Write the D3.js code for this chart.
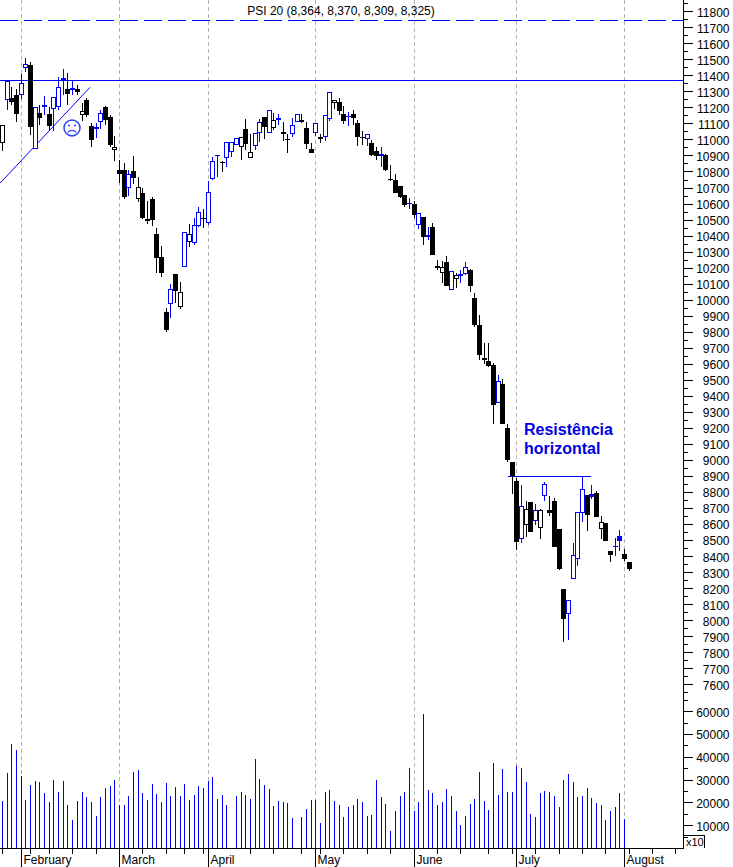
<!DOCTYPE html>
<html>
<head>
<meta charset="utf-8">
<script src="https://cdn.jsdelivr.net/npm/d3@7/dist/d3.min.js"></script>
<style>
  html, body { margin: 0; padding: 0; background: #fff; }
  svg { display: block; font-family: "Liberation Sans", Arial, sans-serif; }
</style>
</head>
<body>
<div id="chart"></div>
<script>
// daily candles, index 0 = late January; k black solid, h black hollow, b blue hollow, f blue solid
const candleTypes = "hbkkbbkbkfkbbfkfkhkkfbkkhkkbkhkhkkkkbkhbhbbkbbfkbbbhkhbbkbhbkkbbkkkbhbbhkkfkkkbkkfkkkkkfkbkbkhhkbhfbkkkkkkbkkkkbhkbhbkkkkbbbbkfkhkkffkk".split("");
const highs = [11091,11374,11328,11316,11411,11509,11486,11208,11216,11274,11203,11266,11391,11443,11416,11370,11343,11228,11260,11108,11108,11187,11212,11156,11025,10875,10854,10813,10900,10771,10698,10617,10642,10449,10338,9950,10101,10162,10112,10428,10476,10511,10580,10567,10744,10896,10906,10867,10989,10989,11014,11016,11129,11037,11045,11129,11141,11189,11166,11162,11112,11037,11135,11160,11160,11112,10979,11104,11037,11154,11297,11251,11260,11212,11174,11187,11124,11056,11035,11000,10954,10954,10910,10842,10788,10713,10654,10638,10619,10542,10517,10455,10480,10251,10243,10276,10180,10168,10189,10239,10193,10043,9908,9735,9735,9607,9534,9507,9226,8989,8889,8845,8748,8739,8729,8698,8866,8779,8766,8573,8199,8128,8486,8677,8895,8783,8845,8812,8654,8608,8434,8515,8567,8446,8369];
const lows = [10933,11187,11218,11114,11257,11424,11033,10946,11093,11156,11058,11058,11187,11280,11218,11280,11280,11120,11145,10958,11014,11066,11093,10958,10871,10733,10630,10652,10725,10615,10507,10476,10465,10172,10143,9804,9891,9985,9943,10205,10334,10347,10455,10453,10469,10750,10771,10802,10833,10896,10966,10875,10937,10885,10937,10989,11008,11045,11062,11093,10993,10921,11020,11110,11108,10943,10921,11025,10979,10995,11120,11191,11156,11099,11089,11093,10964,10968,10962,10900,10875,10833,10806,10746,10667,10640,10584,10571,10511,10447,10345,10376,10282,10189,10106,10089,10066,10076,10110,10157,10053,9835,9627,9602,9584,9230,9357,9226,8993,8791,8442,8488,8525,8556,8598,8513,8750,8656,8463,8319,7868,7881,8259,8342,8619,8561,8762,8650,8511,8500,8369,8407,8438,8376,8313];
const bodyTops = [11091,11366,11262,11278,11357,11476,11465,11208,11166,11216,11160,11266,11328,11384,11316,11322,11318,11183,11249,11087,11079,11170,11203,11141,10954,10813,10813,10785,10804,10708,10667,10509,10630,10411,10268,9925,10068,10162,10054,10428,10411,10467,10548,10513,10673,10871,10906,10860,10989,10989,11014,11016,11066,10923,11041,11110,11141,11189,11122,11135,11047,11006,11091,11160,11122,11075,10943,11104,11016,11154,11297,11251,11235,11162,11149,11162,11104,11016,11035,10979,10929,10910,10904,10756,10750,10713,10654,10607,10598,10542,10517,10407,10455,10216,10205,10239,10180,10157,10162,10209,10187,10014,9843,9640,9621,9596,9494,9478,9201,8989,8872,8719,8696,8739,8694,8690,8852,8690,8748,8573,8199,8128,8409,8677,8820,8783,8791,8796,8615,8608,8434,8469,8529,8417,8365];
const bodyBottoms = [10979,11247,11239,11164,11282,11451,11083,10946,11139,11208,11089,11191,11208,11370,11287,11312,11301,11158,11156,11000,11070,11110,11124,10968,10939,10790,10646,10698,10765,10634,10513,10496,10501,10266,10172,9814,9975,10060,9956,10205,10363,10355,10463,10505,10480,10754,10900,10854,10885,10927,10966,10954,10975,10885,10964,11045,11083,11045,11077,11122,11039,11000,11039,11112,11114,10975,10921,11045,11004,11016,11133,11233,11183,11118,11143,11137,11018,11010,11008,10906,10900,10902,10813,10750,10671,10646,10596,10600,10534,10467,10397,10392,10282,10205,10168,10089,10066,10130,10153,10162,10089,9848,9658,9627,9590,9349,9357,9228,9003,8902,8494,8513,8596,8556,8621,8577,8777,8675,8463,8324,8014,8041,8259,8384,8671,8662,8775,8650,8571,8500,8413,8463,8500,8388,8326];
// no volume printed for index 49, 63 and 134
const volumes = [20760,33040,45760,43130,31730,21200,27780,29530,29090,24270,20320,29970,24710,29530,19000,12430,20760,24710,22510,20320,14180,22510,26460,27340,29970,19000,19000,22950,33480,34360,24270,21200,28220,23830,20320,28660,22950,26900,22950,28220,21200,23390,27340,26460,29530,31290,21640,23390,19000,0,22950,24710,23390,21640,39180,30410,27780,26020,18570,20760,20320,19880,13300,0,13740,17250,21200,21200,11110,24710,25590,20760,19000,13740,18130,19000,21640,20320,14180,14620,29970,22510,19440,7600,16370,22950,24710,35230,16370,20320,58920,25590,24270,19000,20320,26020,22950,16370,10230,14180,19440,21640,33480,20760,16810,37430,23390,34800,24710,24710,36110,35230,29090,15060,13740,24270,25150,24710,22950,18130,29970,32600,29090,22510,22950,26460,22080,19880,19000,12430,16370,18130,24270,12870];

const monthNames = ["February", "March", "April", "May", "June", "July", "August"];
const monthStarts = [4, 25, 44, 67, 88, 110, 133];
const weekTicks = [0, 6, 10, 15, 20, 30, 35, 39, 43, 53, 58, 64, 68, 73, 78, 83, 93, 98, 104, 109, 114, 119, 124, 129, 134, 139, 144];
const priceLabels = d3.range(7600, 11801, 100);
const priceMinor = d3.range(7550, 11851, 100);
const volumeLabels = d3.range(10000, 60001, 10000);
const volumeMinor = d3.range(5000, 65001, 10000);

// hand drawn study lines, as [bar index, price]
const trendLine = [[-0.5, 10730], [18.9, 11328]];
const resistanceLine = [[108.2, 8902], [125.9, 8902]];
const topDashedPrice = 11746;
const topSolidPrice = 11372;
const smiley = [15, 11075];
const noteLines = ["Resistência", "horizontal"];
const noteAt = [112, 9159];
const title = "PSI 20 (8,364, 8,370, 8,309, 8,325)";

const width = 733, height = 867;
const plotRight = 683.5, baseY = 848.5;
const blue = "#0000ff", black = "#000", noteBlue = "#0000e6";

const svg = d3.select("#chart").append("svg")
    .attr("width", width)
    .attr("height", height)
    .style("background", "#fff");

const x = d3.scaleLinear().domain([0, 133]).rangeRound([2, 624]);
const y = d3.scaleLinear().domain([11800, 7600]).range([11.7, 684.9]);
const yVol = d3.scaleLinear().domain([0, 65000]).range([baseY, 700.3]);
const cx = i => x(i) + 0.5;
const py = v => Math.round(y(v));

// month gridlines
svg.append("g").selectAll("line")
    .data(monthStarts)
    .join("line")
    .attr("x1", cx).attr("x2", cx)
    .attr("y1", 0).attr("y2", baseY)
    .attr("stroke", "#b4b4b4")
    .attr("stroke-dasharray", "4,3")
    .attr("shape-rendering", "crispEdges");

// flat study lines
const crisp = svg.append("g").attr("shape-rendering", "crispEdges");
crisp.append("line")
    .attr("x1", 0).attr("x2", plotRight)
    .attr("y1", py(topDashedPrice) + 0.5).attr("y2", py(topDashedPrice) + 0.5)
    .attr("stroke", blue)
    .attr("stroke-dasharray", "18,6");
crisp.append("line")
    .attr("x1", 0).attr("x2", plotRight)
    .attr("y1", py(topSolidPrice) + 0.5).attr("y2", py(topSolidPrice) + 0.5)
    .attr("stroke", blue);
crisp.append("line")
    .attr("x1", x(resistanceLine[0][0])).attr("x2", x(resistanceLine[1][0]))
    .attr("y1", py(resistanceLine[0][1]) + 0.5).attr("y2", py(resistanceLine[1][1]) + 0.5)
    .attr("stroke", blue);

svg.append("line")
    .attr("x1", x(trendLine[0][0])).attr("y1", y(trendLine[0][1]))
    .attr("x2", x(trendLine[1][0])).attr("y2", y(trendLine[1][1]))
    .attr("stroke", blue);

// candles
const candles = candleTypes.map((t, i) => ({
    i, t,
    high: highs[i], low: lows[i], top: bodyTops[i], bottom: bodyBottoms[i]
}));
const candleG = svg.append("g").attr("shape-rendering", "crispEdges");
const candle = candleG.selectAll("g").data(candles).join("g");
const colorOf = d => (d.t === "b" || d.t === "f") ? blue : black;

candle.append("line")
    .attr("x1", d => cx(d.i)).attr("x2", d => cx(d.i))
    .attr("y1", d => py(d.high)).attr("y2", d => py(d.low))
    .attr("stroke", colorOf);

candle.filter(d => d.t === "k" || d.t === "f").append("rect")
    .attr("x", d => x(d.i) - 2)
    .attr("y", d => py(d.top))
    .attr("width", 5)
    .attr("height", d => Math.max(py(d.bottom) - py(d.top), 1))
    .attr("fill", colorOf);

candle.filter(d => d.t === "h" || d.t === "b").append("rect")
    .attr("x", d => x(d.i) - 1.5)
    .attr("y", d => py(d.top) + 0.5)
    .attr("width", 4)
    .attr("height", d => Math.max(py(d.bottom) - py(d.top) - 1, 1))
    .attr("fill", "#fff")
    .attr("stroke", colorOf);

// volume
svg.append("g").attr("shape-rendering", "crispEdges")
    .selectAll("line")
    .data(volumes.map((v, i) => ({ v, i })).filter(d => d.v > 0))
    .join("line")
    .attr("x1", d => cx(d.i)).attr("x2", d => cx(d.i))
    .attr("y1", baseY).attr("y2", d => yVol(d.v))
    .attr("stroke", blue);

// sad face
const face = svg.append("g")
    .attr("transform", `translate(${x(smiley[0])},${y(smiley[1])})`)
    .attr("fill", "none")
    .attr("stroke", "#2b45ee");
face.append("circle").attr("r", 8).attr("stroke-width", 1.5);
face.selectAll(".eye").data([-3, 3]).join("circle")
    .attr("class", "eye")
    .attr("cx", d => d).attr("cy", -2.5).attr("r", 1)
    .attr("fill", "#2b45ee").attr("stroke", "none");
face.append("path").attr("d", "M-4.5,4.5 Q0,0.5 4.5,4.5").attr("stroke-width", 1.2);

// right hand axes
function rightAxis(scale, values, size, labelled) {
    const axis = d3.axisRight(scale)
        .tickValues(values)
        .tickSize(size)
        .tickPadding(3)
        .offset(0)
        .tickFormat(labelled ? d3.format("d") : "");
    const g = svg.append("g")
        .attr("transform", `translate(${plotRight},0)`)
        .call(axis)
        .attr("font-size", null)
        .attr("font-family", null);
    g.select(".domain").remove();
    g.selectAll("line").attr("stroke", black).attr("shape-rendering", "crispEdges");
    g.selectAll("text")
        .attr("x", 46)
        .attr("y", 1)
        .attr("text-anchor", "end")
        .attr("fill", black)
        .style("font-size", "12px");
}
rightAxis(y, priceMinor, 4, false);
rightAxis(y, priceLabels, 9, true);
rightAxis(yVol, volumeMinor, 4, false);
rightAxis(yVol, volumeLabels, 9, true);

// bottom axes
const weekAxis = d3.axisBottom(x).tickValues(weekTicks).tickSize(6).tickFormat("");
const wk = svg.append("g").attr("transform", `translate(0,${baseY - 0.5})`).call(weekAxis);
wk.select(".domain").remove();
wk.selectAll("line").attr("stroke", black).attr("shape-rendering", "crispEdges");

const monthAxis = d3.axisBottom(x).tickValues(monthStarts).tickSize(19)
    .tickFormat((d, i) => monthNames[i]);
const mo = svg.append("g").attr("transform", `translate(0,${baseY - 0.5})`).call(monthAxis);
mo.select(".domain").remove();
mo.selectAll("line").attr("stroke", black).attr("shape-rendering", "crispEdges");
mo.selectAll("text")
    .attr("x", 2)
    .attr("y", 7)
    .attr("dy", "0.71em")
    .attr("text-anchor", "start")
    .attr("fill", black)
    .style("font-size", "12px");

// axis spines
const spines = svg.append("g").attr("stroke", black).attr("shape-rendering", "crispEdges");
spines.append("line").attr("x1", plotRight).attr("x2", plotRight).attr("y1", 0).attr("y2", baseY);
spines.append("line").attr("x1", 0).attr("x2", plotRight).attr("y1", baseY).attr("y2", baseY);

// volume multiplier box
const scaleBox = svg.append("g");
scaleBox.append("path")
    .attr("d", `M${plotRight},835.5 H704.5 V848`)
    .attr("fill", "none")
    .attr("stroke", black)
    .attr("shape-rendering", "crispEdges");
scaleBox.append("text")
    .attr("x", 686)
    .attr("y", 846)
    .style("font-size", "11px")
    .text("x10");

// annotation text
svg.selectAll(".note")
    .data(noteLines)
    .join("text")
    .attr("class", "note")
    .attr("x", x(noteAt[0]) - 2)
    .attr("y", (d, i) => y(noteAt[1]) + i * 19)
    .attr("fill", noteBlue)
    .style("font-size", "16px")
    .style("font-weight", "bold")
    .text(d => d);

svg.append("text")
    .attr("x", 341)
    .attr("y", 15)
    .attr("text-anchor", "middle")
    .attr("fill", black)
    .style("font-size", "12px")
    .text(title);
</script>
</body>
</html>
